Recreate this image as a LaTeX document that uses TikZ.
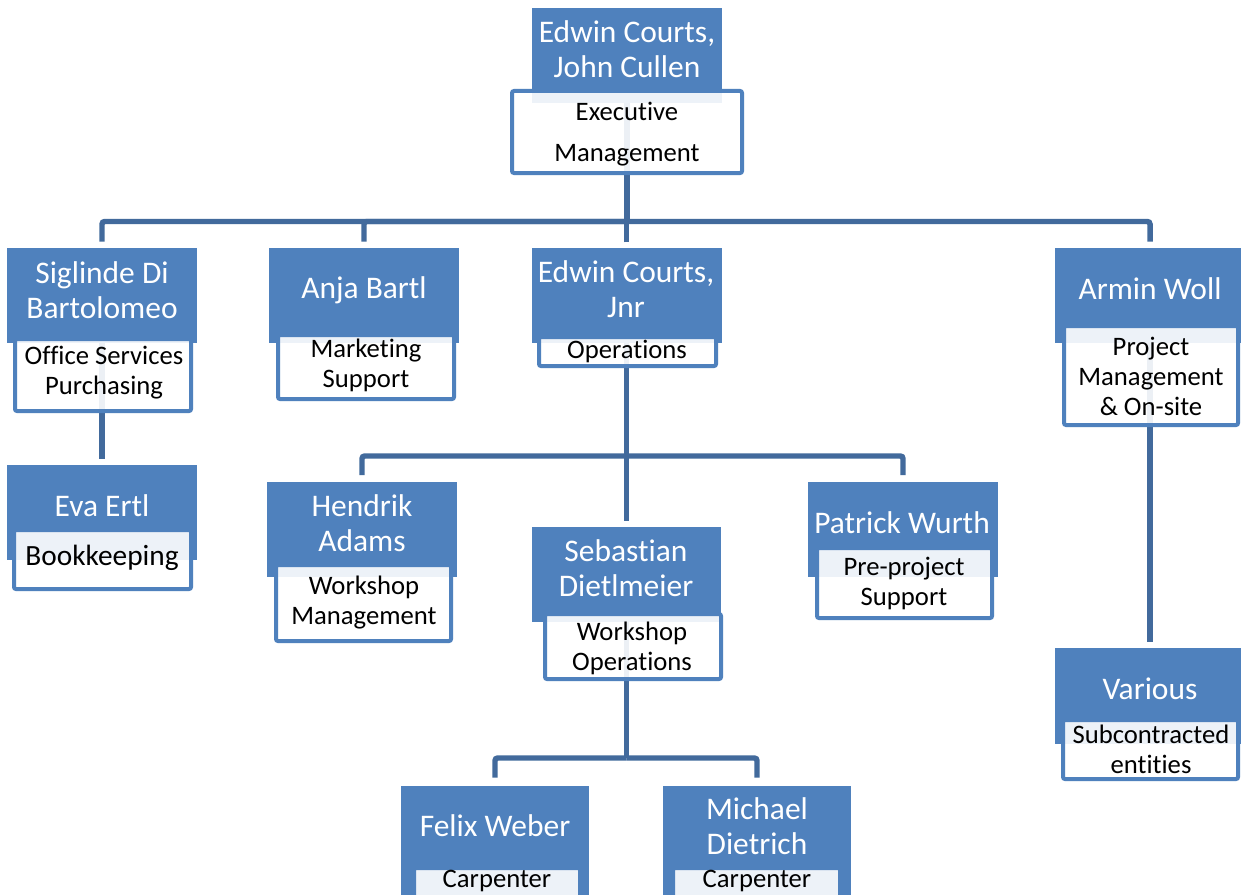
\documentclass[tikz,border=0pt]{standalone}
\usepackage{fontspec}
\setmainfont{Carlito}[Ligatures=CommonOff]
\usetikzlibrary{fit}
\pgfdeclarelayer{bg}
\pgfsetlayers{bg,main}
\definecolor{orgblue}{RGB}{79,129,189}
\definecolor{connblue}{RGB}{66,106,156}
\tikzset{
  namebox/.style={fill=orgblue, draw=none, inner sep=0pt},
  rolebox/.style={draw=orgblue, line width=3pt, fill=white, fill opacity=0.9, inner sep=-1.5pt, rounded corners=1.5pt},
  nametext/.style={text=white, align=center, inner sep=0pt, font=\fontsize{23.6}{26.25}\selectfont},
  roletext/.style={text=black, align=center, inner sep=0pt, font=\fontsize{20}{22.5}\selectfont},
  conn/.style={draw=connblue, line width=4.1pt, rounded corners=2pt},
}
\begin{document}
\begin{tikzpicture}[x=0.75pt,y=-0.75pt]
\clip (0,0) rectangle (1241,895);
% blue name boxes
\node[namebox, fit={(532,8)(722,103)}] (top) {};
\node[namebox, fit={(7,248)(197,343)}] (sig) {};
\node[namebox, fit={(269,248)(459,343)}] (anja) {};
\node[namebox, fit={(531.5,248)(721.5,343)}] (ejr) {};
\node[namebox, fit={(1055,248)(1245,343)}] (arm) {};
\node[namebox, fit={(7,465)(197,560)}] (eva) {};
\node[namebox, fit={(267,482)(457,577)}] (hen) {};
\node[namebox, fit={(532,527)(721,622)}] (seb) {};
\node[namebox, fit={(808,482)(998,577)}] (pat) {};
\node[namebox, fit={(1055,648)(1245,744)}] (var) {};
\node[namebox, fit={(401,786)(589,910)}] (fel) {};
\node[namebox, fit={(663,786)(851,910)}] (mic) {};
% role boxes
\node[rolebox, fit={(510,89)(744,175)}] (topr) {};
\node[rolebox, fit={(13,337)(193,413)}] (sigr) {};
\node[rolebox, fit={(276,333)(456,401)}] (anjar) {};
\node[rolebox, fit={(537,335)(718,368)}] (ejrr) {};
\node[rolebox, fit={(1062,324)(1240,427)}] (armr) {};
\node[rolebox, fit={(12,528)(193,591)}] (evar) {};
\node[rolebox, fit={(274,563)(453,643)}] (henr) {};
\node[rolebox, fit={(543,612)(723,681)}] (sebr) {};
\node[rolebox, fit={(815,546)(994,620)}] (patr) {};
\node[rolebox, fit={(1061,718)(1240,781)}] (varr) {};
\node[rolebox, fit={(412,866)(582,915)}] (felr) {};
\node[rolebox, fit={(671,866)(842,915)}] (micr) {};
% connectors
\coordinate (bus1) at (627,221.5);
\coordinate (bus2) at (626.5,456);
\coordinate (bus3) at (626.5,758);
\begin{pgfonlayer}{bg}
\fill[white] (0,0) rectangle (1241,895);
\draw[conn] (top.south) -- (bus1);
\draw[conn, shorten <=4.5pt] (sig.north) |- (bus1);
\draw[conn, shorten <=4.5pt] (anja.north) |- (bus1);
\draw[conn, shorten <=4pt] (ejr.north) -- (ejr.north |- bus1);
\draw[conn, shorten <=4.5pt] (arm.north) |- (bus1);
\draw[conn, shorten >=4.5pt] (sig.south) -- (eva.north);
\draw[conn, shorten >=4pt] (arm.south) -- (var.north);
\draw[conn, shorten >=4pt] (ejr.south) -- (seb.north);
\draw[conn, shorten <=5pt] (hen.north) |- (bus2);
\draw[conn, shorten <=5pt] (pat.north) |- (bus2);
\draw[conn] (seb.south) -- (bus3);
\draw[conn, shorten <=6pt] (fel.north) |- (bus3);
\draw[conn, shorten <=6pt] (mic.north) |- (bus3);
\end{pgfonlayer}
% texts
\node[nametext] (topn) at (627,49) {Edwin Courts,\\John Cullen};
\node[roletext, font=\fontsize{20}{30.75}\selectfont] (topt) at (627,134) {Executive\\Management};
\node[nametext] (sign) at (102,290) {Siglinde Di\\Bartolomeo};
\node[roletext] (sigt) at (104,373) {Office Services\\Purchasing};
\node[nametext] (anjan) at (364,290) {Anja Bartl};
\node[roletext] (anjat) at (366,365) {Marketing\\Support};
\node[nametext] (ejrn) at (626,289) {Edwin Courts,\\Jnr};
\node[roletext] (ejrt) at (627,351) {Operations};
\node[nametext] (armn) at (1150,289) {Armin Woll};
\node[roletext] (armt) at (1151,376) {Project\\Management\\\& On-site};
\node[nametext] (evan) at (102,506) {Eva Ertl};
\node[roletext, font=\fontsize{22}{24}\selectfont] (evat) at (102,558) {Bookkeeping};
\node[nametext] (henn) at (362,523) {Hendrik\\Adams};
\node[roletext] (hent) at (364,603) {Workshop\\Management};
\node[nametext] (sebn) at (626,568) {Sebastian\\Dietlmeier};
\node[roletext] (sebt) at (632,648) {Workshop\\Operations};
\node[nametext] (patn) at (902,523) {Patrick Wurth};
\node[roletext] (patt) at (904,583) {Pre-project\\Support};
\node[nametext] (varn) at (1150,689) {Various};
\node[roletext] (vart) at (1151,749) {Subcontracted\\entities};
\node[nametext] (feln) at (495,826) {Felix Weber};
\node[roletext] (felt) at (497,881) {Carpenter};
\node[nametext] (micn) at (757,826) {Michael\\Dietrich};
\node[roletext] (mict) at (757,881) {Carpenter};
\end{tikzpicture}
\end{document}
